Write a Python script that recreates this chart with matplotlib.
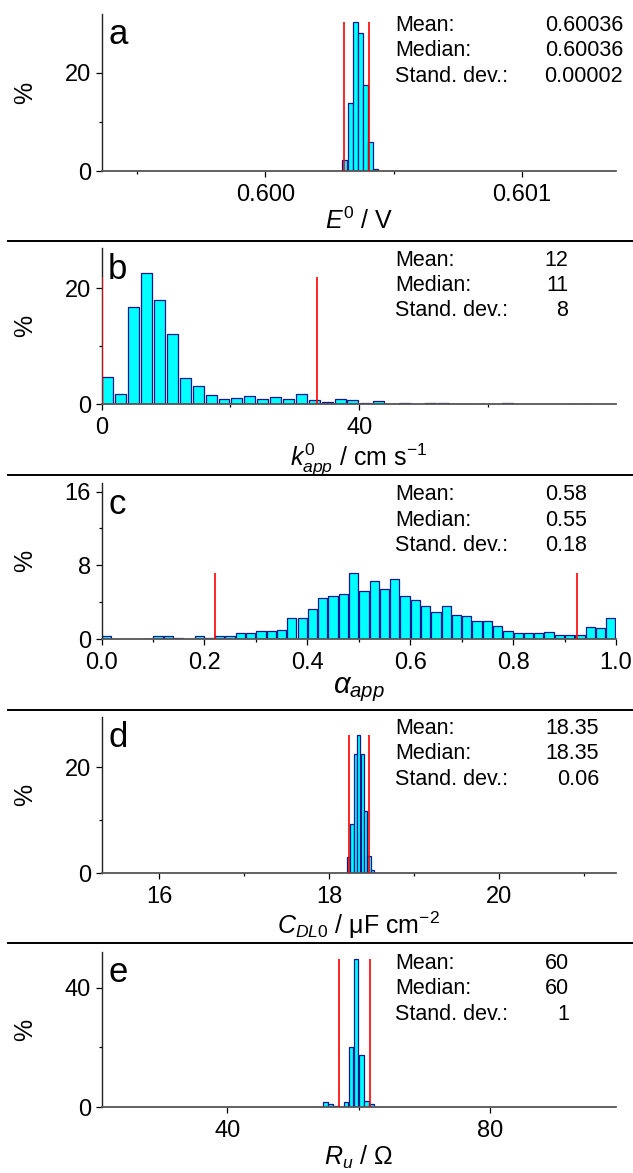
import numpy as np
import matplotlib
matplotlib.use('Agg')
import matplotlib.pyplot as plt
from matplotlib.lines import Line2D

plt.rcParams['font.family'] = ['Liberation Sans', 'DejaVu Sans']
plt.rcParams['mathtext.fontset'] = 'custom'
plt.rcParams['mathtext.rm'] = 'Liberation Sans'
plt.rcParams['mathtext.it'] = 'Liberation Sans:italic'

# ---- data (bin centre, % of runs) ----
a_x = [0.60027, 0.60029, 0.60031, 0.60033, 0.60035, 0.60037, 0.60039, 0.60041, 0.60043]
a_pct = [0.1, 0.1, 2.2, 13.8, 30.3, 28.2, 17.5, 6.0, 0.35]
a_red = [0.600306, 0.600403]
a_stats = ['0.60036', '0.60036', '0.00002']

b_x = [1, 3, 5, 7, 9, 11, 13, 15, 17, 19, 21, 23, 25, 27, 29, 31, 33, 35, 37,
       39, 41, 43, 45, 47, 49, 51, 53, 55, 57, 59, 61, 63, 65, 67, 69, 71, 73, 75]
b_pct = [4.7, 1.7, 16.8, 22.6, 17.9, 12.1, 4.5, 3.1, 1.6, 1.0, 1.1, 1.4, 0.9, 1.2,
         1.0, 1.8, 0.7, 0.4, 0.9, 0.75, 0.3, 0.6, 0.05, 0.3, 0, 0.3, 0.2, 0.1,
         0.1, 0.1, 0, 0.2, 0, 0, 0, 0, 0.05, 0.05]
b_red = [0.15, 33.4]
b_stats = ['12', '11', '8']

c_x = [0.01, 0.03, 0.05, 0.07, 0.09, 0.11, 0.13, 0.15, 0.17, 0.19,
       0.21, 0.23, 0.25, 0.27, 0.29, 0.31, 0.33, 0.35, 0.37, 0.39,
       0.41, 0.43, 0.45, 0.47, 0.49, 0.51, 0.53, 0.55, 0.57, 0.59,
       0.61, 0.63, 0.65, 0.67, 0.69, 0.71, 0.73, 0.75, 0.77, 0.79,
       0.81, 0.83, 0.85, 0.87, 0.89, 0.91, 0.93, 0.95, 0.97, 0.99]
c_pct = [0.3, 0, 0, 0.05, 0.05, 0.3, 0.3, 0.07, 0, 0.3,
         0.07, 0.3, 0.3, 0.7, 0.6, 0.9, 0.9, 1.0, 2.3, 2.3,
         3.3, 4.5, 4.7, 4.9, 7.2, 5.2, 6.3, 5.4, 6.5, 4.7,
         4.2, 3.6, 2.9, 3.6, 2.6, 2.5, 1.9, 1.9, 1.4, 0.9,
         0.6, 0.7, 0.6, 0.8, 0.4, 0.4, 0.4, 1.3, 1.2, 2.3]
c_red = [0.22, 0.924]
c_stats = ['0.58', '0.55', '0.18']

d_x = [18.11, 18.15, 18.19, 18.23, 18.27, 18.31, 18.35, 18.39, 18.43, 18.47, 18.51, 18.55]
d_pct = [0.05, 0.1, 0.1, 3.1, 9.3, 22.6, 26.1, 22.6, 11.8, 3.2, 0.6, 0.1]
d_red = [18.23, 18.465]
d_stats = ['18.35', '18.35', '0.06']

e_x = [53.36, 54.14, 54.92, 55.70, 56.48, 57.26, 58.04, 58.82, 59.60,
       60.38, 61.16, 61.94, 62.72]
e_pct = [0.1, 0.1, 1.9, 1.0, 0.45, 0, 1.9, 20.1, 49.7, 17.5, 2.0, 1.1, 0.2]
e_red = [57.0, 61.7]
e_stats = ['60', '60', '1']

stat_names = ['Mean:', 'Median:', 'Stand. dev.:']

W, H = 633, 1173
fig = plt.figure(figsize=(W / 100, H / 100), dpi=100)

panels = [
    # letter, x, pct, red, stats, top, bottom, bar width, xlim, ylim, xmaj, xmin, ymaj, ymin, xlabel, label size, fmt, value right edge
    ('a', a_x, a_pct, a_red, a_stats, 14, 171, 0.0000195, (0.599362, 0.601366), 32,
     [0.600, 0.601], [0.5995, 0.6005], [0, 20], [10], r'$E^{0}$ / V', 18, '%.3f', 623),
    ('b', b_x, b_pct, b_red, b_stats, 248.3, 404.3, 1.7, (0, 79.8), 26.9,
     [0, 40], [20, 60], [0, 20], [10], r'$k^{0}_{app}$ / cm s$^{-1}$', 18, '%d', 568),
    ('c', c_x, c_pct, c_red, c_stats, 483.3, 639, 0.018, (0, 1.0), 16.9,
     [0.0, 0.2, 0.4, 0.6, 0.8, 1.0], [0.1, 0.3, 0.5, 0.7, 0.9], [0, 8, 16], [4, 12],
     r'$\alpha_{app}$', 21, '%.1f', 587),
    ('d', d_x, d_pct, d_red, d_stats, 716.7, 873.3, 0.038, (15.324, 21.376), 29.6,
     [16, 18, 20], [17, 19, 21], [0, 20], [10], r'$C_{DL0}$ / μF cm$^{-2}$', 18, '%d', 599),
    ('e', e_x, e_pct, e_red, e_stats, 951.7, 1107.3, 0.72, (20.8, 99.2), 52,
     [40, 80], [60], [0, 40], [20], r'$R_{u}$ / Ω', 18, '%d', 569),
]

left, right = 101.5, 616
for (letter, xs, pct, red, stats, top, bottom, bw, xlim, ytop,
     xmaj, xmin, ymaj, ymin, xlab, xlsize, fmt, vx) in panels:
    ax = fig.add_axes([left / W, 1 - bottom / H, (right - left) / W, (bottom - top) / H])
    xs = np.array(xs)
    pct = np.array(pct)
    keep = pct > 0
    ax.bar(xs[keep], pct[keep], width=bw, color='#00ffff', edgecolor='#14148c',
           linewidth=0.9, zorder=2)
    ax.vlines(red, 0, pct.max() if letter != 'b' else 22.0, color='#ff0000', lw=1.2, zorder=3)
    ax.set_xlim(*xlim)
    ax.set_ylim(0, ytop)
    ax.set_xticks(xmaj)
    ax.set_xticklabels([fmt % v for v in xmaj])
    ax.set_xticks(xmin, minor=True)
    ax.set_yticks(ymaj)
    ax.set_yticks(ymin, minor=True)
    for s in ['top', 'right']:
        ax.spines[s].set_visible(False)
    ax.spines['left'].set_color('#222222')
    ax.spines['bottom'].set_color('#555555')
    ax.spines['left'].set_linewidth(1.0)
    ax.spines['bottom'].set_linewidth(1.3)
    ax.tick_params(which='major', direction='out', length=4.5, width=0.9,
                   labelsize=17, pad=3)
    ax.tick_params(axis='x', which='major', pad=5)
    ax.tick_params(which='minor', direction='out', length=2.5, width=0.9)
    ax.set_xlabel(xlab, fontsize=xlsize, labelpad=1)
    fig.text(25 / W, 1 - (top + bottom) / 2 / H, '%', rotation=90, fontsize=18,
             ha='center', va='center')
    fig.text(108 / W, 1 - (top + 30.5) / H, letter, fontsize=25, va='baseline')
    for i, (name, val) in enumerate(zip(stat_names, stats)):
        yy = 1 - (top + 11.7 + 25.3 * i) / H
        fig.text(395 / W, yy, name, fontsize=15.5, va='center')
        fig.text(vx / W, yy, val, fontsize=15.5, va='center', ha='right')

for y in [241.5, 475, 710, 943]:
    fig.add_artist(Line2D([8 / W, 1], [1 - y / H, 1 - y / H], color='black', lw=1.4))

fig.savefig('out.png', dpi=100)
